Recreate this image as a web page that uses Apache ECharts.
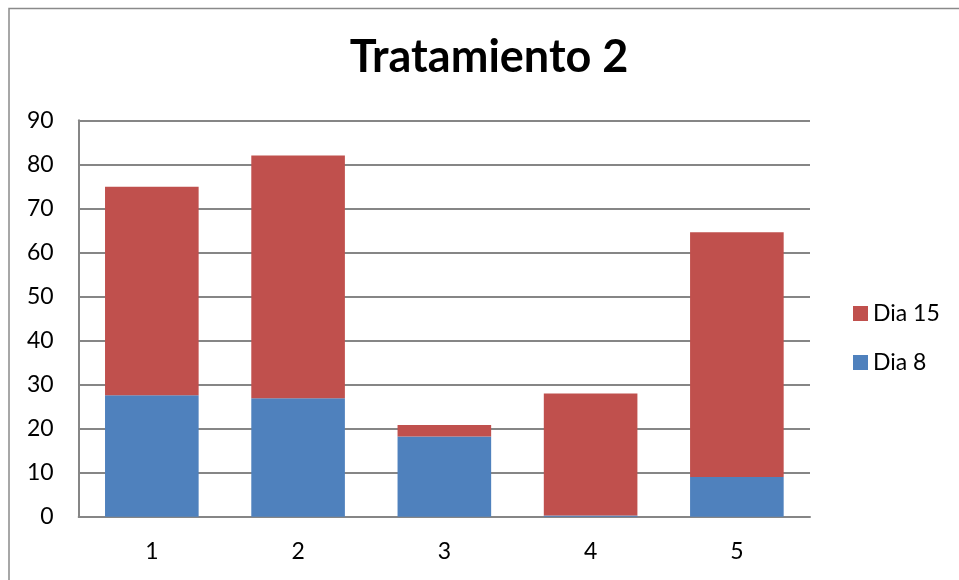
<!DOCTYPE html>
<html>
<head>
<meta charset="utf-8">
<script src="https://cdn.jsdelivr.net/npm/echarts@6/dist/echarts.min.js"></script>
<style>
html,body{margin:0;padding:0;background:#fff;}
#chart{width:959px;height:580px;}
</style>
</head>
<body>
<div id="chart"></div>
<script>
const categories = ['1', '2', '3', '4', '5'];
const dia8 = [27.6, 26.9, 18.2, 0.3, 9.0];
const dia15 = [47.3, 55.1, 2.6, 27.7, 55.6];
const yTicks = { min: 0, max: 90, interval: 10 };

const FONT = 'Lato';
const chart = echarts.init(document.getElementById('chart'), null, { renderer: 'canvas' });
chart.setOption({
  backgroundColor: '#ffffff',
  animation: false,
  graphic: [{
    type: 'rect',
    shape: { x: 9, y: 8.5, width: 1000, height: 700 },
    style: { fill: 'none', stroke: '#8a8a8a', lineWidth: 1.5 },
    silent: true
  }],
  title: {
    text: 'Tratamiento 2',
    left: 484,
    textAlign: 'center',
    top: 30,
    textStyle: { fontFamily: FONT, fontWeight: 'bold', fontSize: 45, color: '#000' }
  },
  legend: {
    orient: 'vertical',
    left: 848,
    top: 297,
    itemWidth: 15,
    itemHeight: 15,
    itemGap: 26,
    icon: 'rect',
    data: ['Dia 15', 'Dia 8'],
    textStyle: { fontFamily: FONT, fontSize: 23, color: '#000', padding: [0, 0, 0, 0] }
  },
  grid: { left: 78.7, right: 149, top: 120.3, bottom: 63.3, containLabel: false },
  xAxis: {
    type: 'category',
    data: categories,
    axisTick: { show: false },
    axisLine: { lineStyle: { color: '#868686', width: 2 } },
    axisLabel: { fontFamily: FONT, fontSize: 23, color: '#000', margin: 23 }
  },
  yAxis: {
    type: 'value',
    min: yTicks.min,
    max: yTicks.max,
    interval: yTicks.interval,
    axisLine: { show: true, lineStyle: { color: '#868686', width: 2 } },
    axisTick: { show: false },
    splitLine: { lineStyle: { color: '#868686', width: 2 } },
    axisLabel: { fontFamily: FONT, fontSize: 23, color: '#000', margin: 25 }
  },
  series: [
    {
      name: 'Dia 8', type: 'bar', stack: 'total', data: dia8,
      barWidth: '64%',
      itemStyle: { color: '#4F81BD' }
    },
    {
      name: 'Dia 15', type: 'bar', stack: 'total', data: dia15,
      barWidth: '64%',
      itemStyle: { color: '#C0504D' }
    }
  ]
});
</script>
</body>
</html>
